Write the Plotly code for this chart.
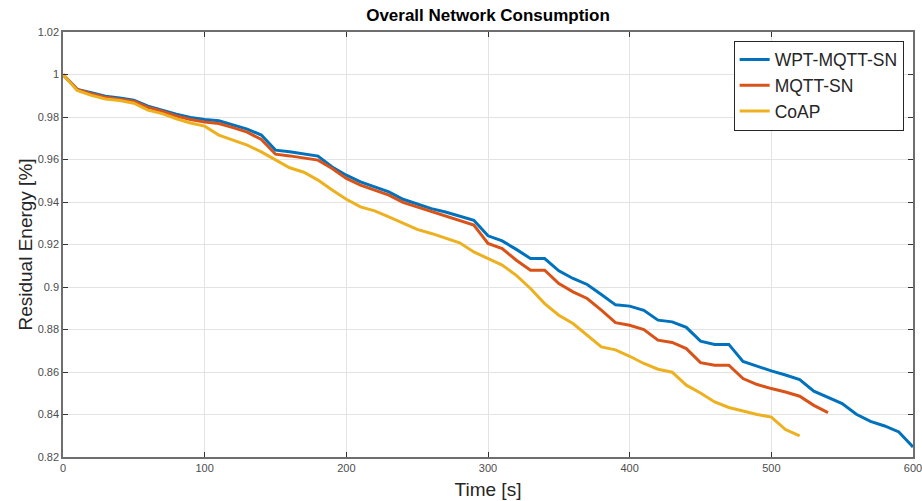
import plotly.graph_objects as go

time_wpt = list(range(0, 601, 10))
wpt_mqtt_sn = [1.0, 0.993, 0.9914, 0.9898, 0.989, 0.9879, 0.9851, 0.9832, 0.9813, 0.9798,
               0.9788, 0.9782, 0.9762, 0.9743, 0.9715, 0.9644, 0.9636, 0.9626, 0.9616, 0.9565,
               0.9526, 0.9495, 0.9471, 0.9448, 0.9413, 0.939, 0.9369, 0.9353, 0.9333, 0.9314,
               0.9241, 0.9217, 0.9177, 0.9134, 0.9134, 0.9076, 0.904, 0.9012, 0.8965, 0.8916,
               0.891, 0.889, 0.8844, 0.8836, 0.881, 0.8745, 0.873, 0.873, 0.865, 0.8627,
               0.8605, 0.8586, 0.8564, 0.851, 0.8482, 0.8451, 0.8401, 0.8368, 0.8346, 0.8318,
               0.8247]

time_mqtt = list(range(0, 541, 10))
mqtt_sn = [1.0, 0.993, 0.991, 0.9893, 0.9884, 0.9874, 0.9845, 0.9827, 0.9805, 0.9788,
           0.9777, 0.9769, 0.975, 0.9729, 0.9694, 0.9625, 0.9617, 0.9606, 0.9597, 0.9558,
           0.9511, 0.9479, 0.9456, 0.9432, 0.9398, 0.9377, 0.9353, 0.9333, 0.9314, 0.9291,
           0.9205, 0.9181, 0.9126, 0.9079, 0.9079, 0.9016, 0.8977, 0.8946, 0.8891, 0.8832,
           0.882, 0.880, 0.875, 0.8739, 0.871, 0.8644, 0.8632, 0.8632, 0.8569, 0.8541,
           0.8522, 0.8506, 0.8486, 0.8443, 0.8409]

time_coap = list(range(0, 521, 10))
coap = [1.0, 0.9925, 0.9902, 0.9885, 0.9878, 0.9865, 0.9832, 0.9816, 0.9792, 0.9772,
        0.9757, 0.9715, 0.9691, 0.9668, 0.9636, 0.96, 0.9561, 0.954, 0.9503, 0.9456,
        0.9413, 0.9377, 0.9358, 0.933, 0.9299, 0.9271, 0.9252, 0.9231, 0.9208, 0.9165,
        0.9134, 0.9103, 0.9055, 0.8993, 0.8922, 0.8867, 0.8828, 0.8773, 0.8718, 0.8704,
        0.8674, 0.864, 0.8613, 0.8599, 0.8538, 0.8501, 0.8459, 0.8433, 0.8417, 0.84,
        0.8388, 0.8329, 0.8299]

y_tick_vals = [0.82, 0.84, 0.86, 0.88, 0.90, 0.92, 0.94, 0.96, 0.98, 1.00, 1.02]
y_tick_text = ["0.82", "0.84", "0.86", "0.88", "0.9", "0.92", "0.94", "0.96", "0.98", "1", "1.02"]
x_tick_vals = [0, 100, 200, 300, 400, 500, 600]

FONT = "Liberation Sans, Arial, Helvetica, sans-serif"

fig = go.Figure()
fig.add_trace(go.Scatter(x=time_wpt, y=wpt_mqtt_sn, mode="lines", name="WPT-MQTT-SN",
                         line=dict(color="#0072BD", width=3)))
fig.add_trace(go.Scatter(x=time_mqtt, y=mqtt_sn, mode="lines", name="MQTT-SN",
                         line=dict(color="#D95319", width=3)))
fig.add_trace(go.Scatter(x=time_coap, y=coap, mode="lines", name="CoAP",
                         line=dict(color="#EDB120", width=3)))

axis_common = dict(
    showline=True, linecolor="#6e6e6e", linewidth=1.5, mirror="ticks",
    ticks="inside", ticklen=5, tickcolor="#333333", tickwidth=1,
    showgrid=True, gridcolor="#e3e3e3", gridwidth=1, zeroline=False,
    automargin=False, ticklabeloverflow="allow",
    tickfont=dict(family=FONT, size=11, color="#4d4d4d"),
)

fig.update_layout(
    width=922, height=501,
    margin=dict(l=63, r=9, t=32, b=44),
    paper_bgcolor="white", plot_bgcolor="white",
    title=dict(text="<b>Overall Network Consumption</b>", x=0.5293, xanchor="center",
               y=0.97, yanchor="middle",
               font=dict(family=FONT, size=17, color="black")),
    xaxis=dict(range=[0, 600], tickvals=x_tick_vals,
               title=dict(text="Time [s]", standoff=10,
                          font=dict(family=FONT, size=19, color="#262626")),
               **axis_common),
    yaxis=dict(range=[0.82, 1.02], tickvals=y_tick_vals, ticktext=y_tick_text,
               title=dict(text="Residual Energy [%]", standoff=0,
                          font=dict(family=FONT, size=19, color="#262626")),
               **axis_common),
    legend=dict(x=0.989, xanchor="right", y=0.98, yanchor="top",
                bgcolor="white", bordercolor="#262626", borderwidth=1,
                font=dict(family=FONT, size=17.5, color="#262626"),
                itemwidth=30, tracegroupgap=0),
    showlegend=True,
)

fig.write_html("out.html")
